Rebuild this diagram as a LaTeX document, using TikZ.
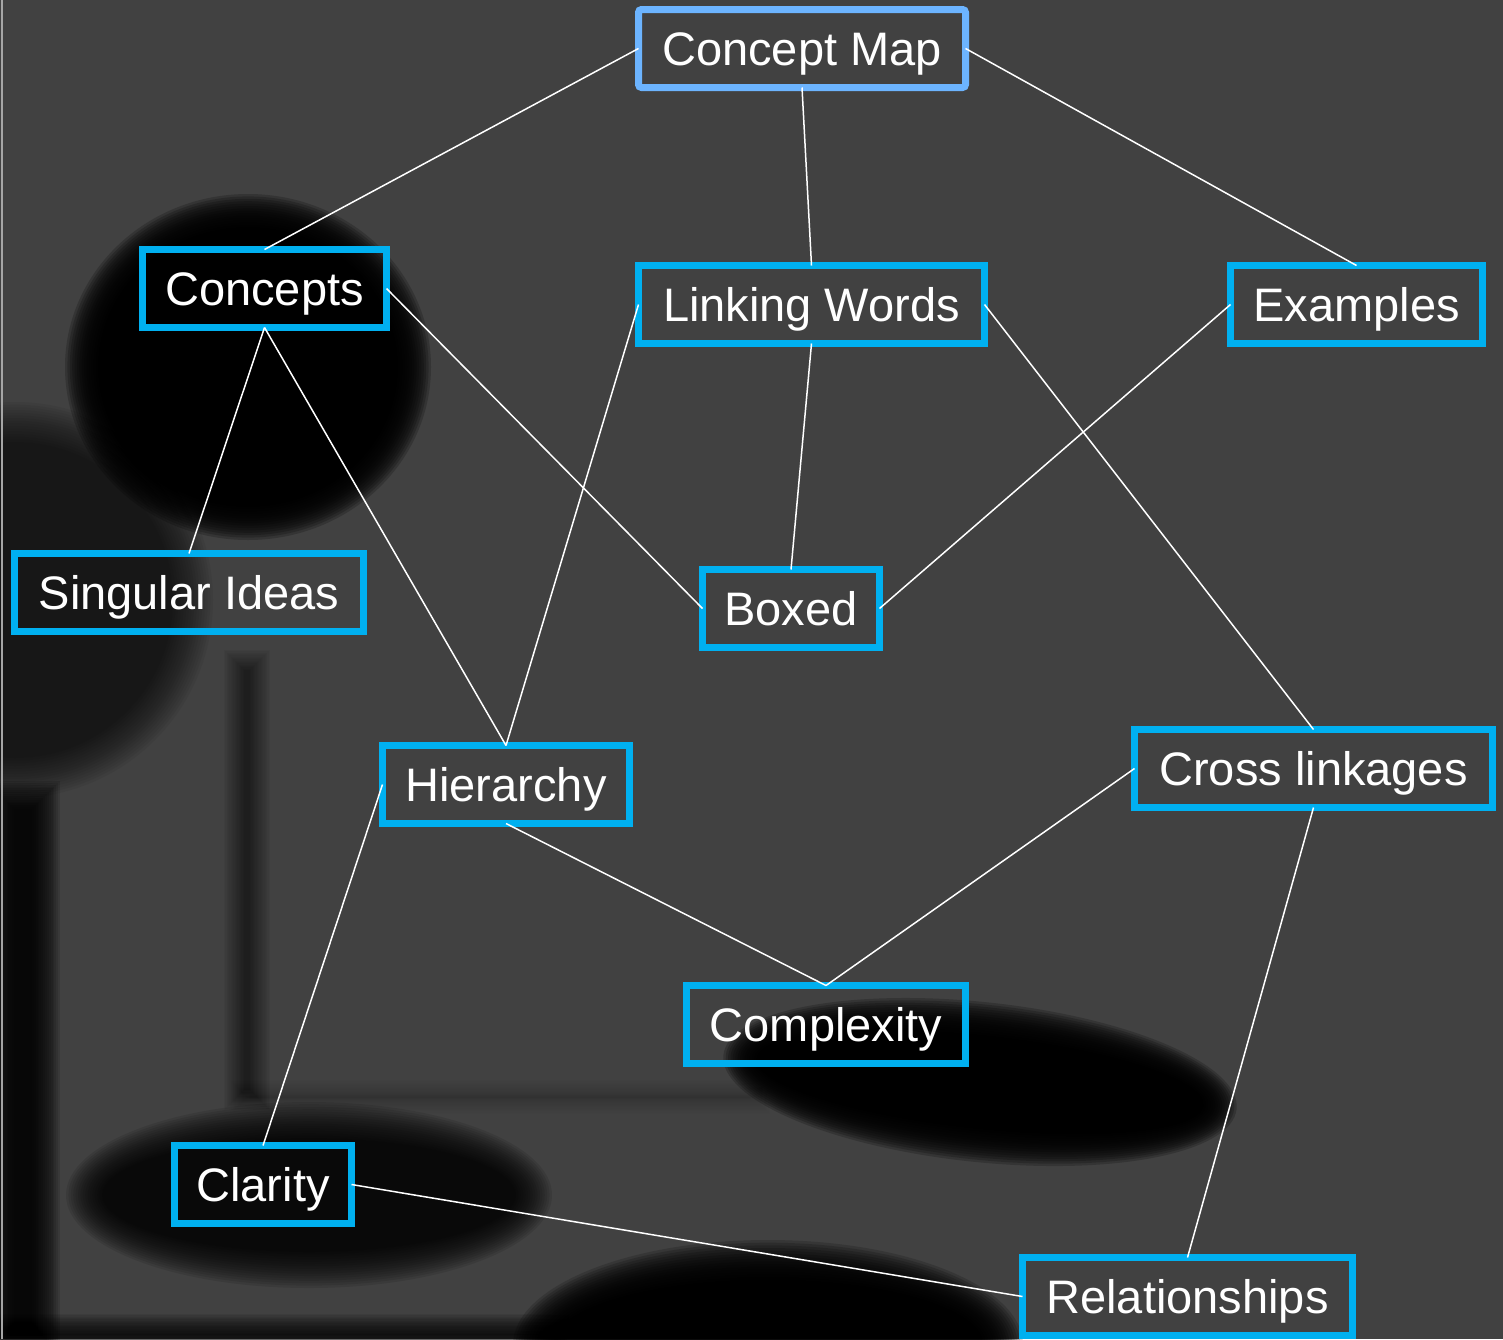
\documentclass[tikz,border=0pt]{standalone}
\usepackage{fontspec}
\setmainfont{Liberation Sans}
\definecolor{bg}{RGB}{65,65,65}
\definecolor{cyanb}{RGB}{0,176,240}
\definecolor{topb}{RGB}{108,180,255}
\newcommand{\blob}[7]{% cx cy rx ry blur opacity extra
  \foreach \k in {0,...,15}{
    \pgfmathsetmacro\blurd{#5*(1-\k/7.5)}
    \fill[black,opacity=#6,#7] (#1,#2) ellipse [x radius={#3+\blurd}, y radius={#4+\blurd}];
  }}
\newcommand{\blurrect}[6]{% x1 y1 x2 y2 blur opacity
  \foreach \k in {0,...,15}{
    \pgfmathsetmacro\blurd{#5*(1-\k/7.5)}
    \fill[black,opacity=#6] (#1-\blurd,#2-\blurd) rectangle (#3+\blurd,#4+\blurd);
  }}
\tikzset{
  box/.style={draw=cyanb, line width=7pt, inner sep=0pt, outer sep=0pt,
    minimum height=78pt, text=white, font=\fontsize{47}{56}\selectfont,
    text height=34pt, text depth=1pt},
  topbox/.style={box, draw=topb, rounded corners=3pt},
  link/.style={draw=white, line width=1.5pt}
}
\begin{document}
\begin{tikzpicture}[x=1pt,y=-1pt]
  \useasboundingbox (0,0) rectangle (1503,1339);
  \fill[bg] (0,0) rectangle (1503,1339);
  % blurred background shapes
  \blob{15}{600}{178}{178}{20}{0.051}{}
  \blob{248}{367}{165}{155}{18}{0.2}{}
  \blurrect{234}{660}{260}{1100}{10}{0.034}
  \blurrect{240}{1090}{760}{1104}{10}{0.011}
  \blurrect{0}{795}{46}{1339}{14}{0.11}
  \blurrect{0}{1324}{560}{1345}{10}{0.072}
  \blob{309}{1195}{225}{75}{18}{0.096}{}
  \blob{980}{1082}{240}{62}{18}{0.2}{rotate around={-6:(980,1082)}}
  \blob{768}{1345}{235}{85}{20}{0.17}{}
  \draw[gray!70, line width=2pt] (2,0) -- (2,1339);
  % nodes
  \node[topbox, minimum width=327pt] (cmap) at (802,48.5) {Concept Map};
  \node[box, minimum width=244pt] (concepts) at (264.5,288.5) {Concepts};
  \node[box, minimum width=346pt] (linking) at (811.5,304.5) {Linking Words};
  \node[box, minimum width=252pt] (examples) at (1356.5,304.5) {Examples};
  \node[box, minimum width=349pt] (singular) at (189,592.5) {Singular Ideas};
  \node[box, minimum width=177pt] (boxed) at (791,608.5) {Boxed};
  \node[box, minimum width=247pt] (hier) at (506,784.5) {Hierarchy};
  \node[box, minimum width=358pt] (cross) at (1313.5,768.5) {Cross linkages};
  \node[box, minimum width=279pt] (complex) at (826,1024.5) {Complexity};
  \node[box, minimum width=177pt] (clarity) at (263,1184.5) {Clarity};
  \node[box, minimum width=330pt] (rel) at (1187.5,1296.5) {Relationships};
  % connectors
  \draw[link] (cmap.west) -- (concepts.north);
  \draw[link] (cmap.south) -- (linking.north);
  \draw[link] (cmap.east) -- (examples.north);
  \draw[link] (concepts.east) -- (boxed.west);
  \draw[link] (concepts.south) -- (singular.north);
  \draw[link] (concepts.south) -- (hier.north);
  \draw[link] (linking.west) -- (hier.north);
  \draw[link] (linking.south) -- (boxed.north);
  \draw[link] (linking.east) -- (cross.north);
  \draw[link] (examples.west) -- (boxed.east);
  \draw[link] (hier.west) -- (clarity.north);
  \draw[link] (hier.south) -- (complex.north);
  \draw[link] (cross.west) -- (complex.north);
  \draw[link] (cross.south) -- (rel.north);
  \draw[link] (clarity.east) -- (rel.west);
\end{tikzpicture}
\end{document}
